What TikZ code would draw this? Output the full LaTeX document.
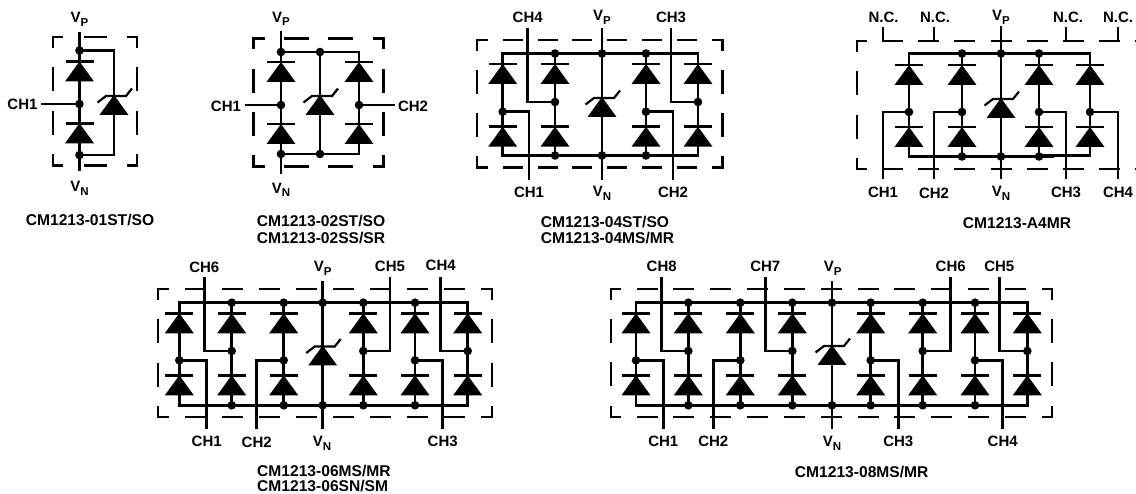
\documentclass[tikz,border=0pt]{standalone}
\usepackage{fontspec}
\setmainfont{Liberation Sans}[BoldFont={Liberation Sans Bold}]
\newcommand\Lw{2.8}
\tikzset{
 wire/.style={line width=\Lw pt,line cap=rect,line join=miter},
 dot/.style={circle,fill=black,draw=none,inner sep=0pt,minimum size=8.6pt},
 lbl/.style={inner sep=0pt,font=\bfseries\fontsize{15}{15}\selectfont},
 captext/.style={inner sep=0pt,align=left,font=\bfseries\fontsize{15.6}{16.5}\selectfont},
 diode/.pic={\fill (-14.5,20) -- (0,0) -- (14.5,20) -- cycle;
   \draw[line width=\Lw pt] (-14,0) -- (14,0);},
 tvs/.pic={\fill (-14.5,20) -- (0,0) -- (14.5,20) -- cycle;
   \draw[line width=2.2pt] (-16.5,7.5) -- (-8,1) -- (12,1) -- (18,-6.5);}
}
% junction or bare point
\newcommand\Pt[4]{\ifnum#4=1 \node[dot] (#1) at (#2,#3) {};\else\coordinate (#1) at (#2,#3);\fi}
% name x top mid bot bar1 bar2 dots
\newcommand\Column[8]{%
 \Pt{#1t}{#2}{#3}{#8}\Pt{#1b}{#2}{#5}{#8}\node[dot] (#1m) at (#2,#4) {};
 \draw[wire] (#1t) -- (#1m) -- (#1b);
 \pic at (#2,#6) {diode};\pic at (#2,#7) {diode};}
% name x top apex bot dots
\newcommand\Tvs[6]{%
 \Pt{#1t}{#2}{#3}{#6}\Pt{#1b}{#2}{#5}{#6}
 \draw[wire] (#1t) -- (#1b);
 \pic at (#2,#4) {tvs};}
% name x y text (label)
\newcommand\Lab[4]{\node[lbl] (#1) at (#2,#3) {#4};}
\newcommand\Vs[1]{V\raisebox{-3.5pt}{\fontsize{11.5}{11.5}\selectfont #1}}
% channel pin: name column-point x y label-y text
\newcommand\Chan[6]{\coordinate (#1) at (#3,#4);\draw[wire] (#2) -| (#1);\Lab{#1l}{#3}{#5}{#6}}
% dashed side: x1 y1 x2 y2 length n dash arm
\newcommand\Dsh[8]{%
 \pgfmathsetmacro\dg{(#5-2*#8-#6*#7)/(#6+1)}%
 \pgfmathsetmacro\don{#7-2.2}\pgfmathsetmacro\doff{\dg+2.2}\pgfmathsetmacro\dph{\don-(#8-1.1)}%
 \draw[line width=2.2pt,line cap=rect,dash pattern=on \don pt off \doff pt,dash phase=\dph pt] (#1,#2) -- (#3,#4);}
% x1 y1 x2 y2 nh dh arm-h
\newcommand\DBox[7]{%
 \pgfmathsetmacro\bw{#3-#1}\pgfmathsetmacro\bh{#4-#2}%
 \edef\bwx{\bw}\edef\bhx{\bh}%
 \Dsh{#1}{#2}{#3}{#2}{\bwx}{#5}{#6}{#7}
 \Dsh{#1}{#4}{#3}{#4}{\bwx}{#5}{#6}{#7}
 \Dsh{#1}{#2}{#1}{#4}{\bhx}{2}{24}{11}
 \Dsh{#3}{#2}{#3}{#4}{\bhx}{2}{24}{11}}
\begin{document}
\begin{tikzpicture}[x=1pt,y=-1pt]
\useasboundingbox (0,0) rectangle (1136,494);
\clip (0,0) rectangle (1136,494);
\fill[white] (0,0) rectangle (1136,494);
% ---------- 01
\DBox{53}{37}{137}{165.5}{1}{23}{10}
\Column{a}{79.5}{50.5}{104}{155}{61.5}{123.3}{1}
\Tvs{av}{114}{50.5}{95}{155}{0}
\draw[wire] (at) -- (avt) (avb) -- (ab);
\coordinate (aP) at (79.5,33);\coordinate (aN) at (79.5,170);
\draw[wire] (aP) -- (at) (ab) -- (aN);
\Lab{aVP}{79.5}{19.5}{\Vs{P}}\Lab{aVN}{79.5}{188.5}{\Vs{N}}
\coordinate (aC) at (42,104);\draw[wire] (aC) -- (am);
\Lab{aCl}{22.5}{104.5}{CH1}
\node[captext] (aCap) at (90,220) {CM1213-01ST/SO};
% ---------- 02
\DBox{253.5}{38.5}{383.5}{166.5}{2}{25}{11}
\Column{b}{281}{52}{105}{154}{62}{124}{1}
\Column{c}{359}{52}{105}{154}{62}{124}{0}
\Tvs{bv}{320}{52}{95}{154}{1}
\draw[wire] (bt) -- (bvt) -- (ct) (bb) -- (bvb) -- (cb);
\coordinate (bP) at (281,32);\coordinate (bN) at (281,173);
\draw[wire] (bP) -- (bt) (bb) -- (bN);
\Lab{bVP}{281}{19}{\Vs{P}}\Lab{bVN}{281}{190}{\Vs{N}}
\coordinate (bC) at (246,105);\coordinate (cC) at (394,105);
\draw[wire] (bC) -- (bm) (cm) -- (cC);
\Lab{bCl}{226}{106}{CH1}\Lab{cCl}{413}{106}{CH2}
\node[captext] (bCap) at (321,229.5) {CM1213-02ST/SO\\CM1213-02SS/SR};
% ---------- 04
\DBox{477}{40}{722.5}{167.5}{6}{20}{11}
\Column{d}{502.7}{53.5}{111.7}{155.5}{64}{126.7}{0}
\Column{e}{555}{53.5}{102}{155.5}{64}{126.7}{1}
\Column{f}{646}{53.5}{111.7}{155.5}{64}{126.7}{1}
\Column{g}{698}{53.5}{102}{155.5}{64}{126.7}{0}
\Tvs{dv}{602}{53.5}{97}{155.5}{1}
\draw[wire] (dt) -- (et) -- (dvt) -- (ft) -- (gt) (db) -- (eb) -- (dvb) -- (fb) -- (gb);
\coordinate (dP) at (602,29);\coordinate (dN) at (602,179);
\draw[wire] (dP) -- (dvt) (dvb) -- (dN);
\Lab{dVP}{602}{17.5}{\Vs{P}}\Lab{dVN}{602}{193.5}{\Vs{N}}
\Chan{dC1}{dm}{529}{179}{192}{CH1}
\Chan{dC2}{fm}{673}{179}{192}{CH2}
\Chan{dC4}{em}{527.7}{29}{17}{CH4}
\Chan{dC3}{gm}{671}{29}{17}{CH3}
\node[captext] (dCap) at (607.5,230) {CM1213-04ST/SO\\CM1213-04MS/MR};
% ---------- A4
\DBox{857}{41}{1145}{169}{7}{21}{10}
\Column{h}{909}{53.5}{112}{156.5}{65}{127}{0}
\Column{i}{962}{53.5}{112}{156.5}{65}{127}{1}
\Column{j}{1039}{53.5}{112}{156.5}{65}{127}{1}
\Column{k}{1090}{53.5}{112}{155.5}{65}{127}{0}
\Tvs{hv}{1001}{53.5}{98}{156.5}{1}
\coordinate (hr) at (1053,156.5);\coordinate (kr) at (1042,155.5);
\draw[wire] (ht) -- (it) -- (hvt) -- (jt) -- (kt) (hb) -- (ib) -- (hvb) -- (jb) -- (hr) (kr) -- (kb);
\coordinate (hP) at (1001,27);\coordinate (hN) at (1001,178);
\draw[wire] (hP) -- (hvt) (hvb) -- (hN);
\Lab{hVP}{1001}{17.5}{\Vs{P}}\Lab{hVN}{1001}{193.5}{\Vs{N}}
\Chan{hC1}{hm}{883}{178}{192}{CH1}
\Chan{hC2}{im}{934}{178}{193}{CH2}
\Chan{hC3}{jm}{1066}{178}{192}{CH3}
\Chan{hC4}{km}{1118}{178}{192}{CH4}
\foreach \nn/\xa/\xl in {p/883/883.5,q/934/935,r/1066/1068,s/1118/1118}{
 \coordinate (\nn1) at (\xa,28);\coordinate (\nn2) at (\xa,41);
 \draw[wire] (\nn1) -- (\nn2);
 \node[lbl] (\nn l) at (\xl,17) {N.C.};}
\node[captext] (hCap) at (1017,223) {CM1213-A4MR};
% ---------- 06
\DBox{157.7}{289.3}{491.7}{416.7}{8}{21}{11}
\Column{m}{179.3}{302.7}{360.3}{405.3}{313.3}{375.3}{0}
\Column{n}{231.7}{302.7}{351}{405.3}{313.3}{375.3}{1}
\Column{o}{283.7}{302.7}{360.3}{405.3}{313.3}{375.3}{1}
\Column{u}{363.3}{302.7}{351}{405.3}{313.3}{375.3}{1}
\Column{w}{415}{302.7}{360.3}{405.3}{313.3}{375.3}{1}
\Column{y}{467.7}{302.7}{351}{405.3}{313.3}{375.3}{0}
\Tvs{mv}{322.7}{302.7}{345.5}{405.3}{1}
\draw[wire] (mt) -- (nt) -- (ot) -- (mvt) -- (ut) -- (wt) -- (yt) (mb) -- (nb) -- (ob) -- (mvb) -- (ub) -- (wb) -- (yb);
\coordinate (mP) at (322.7,282);\coordinate (mN) at (322.7,427.7);
\draw[wire] (mP) -- (mvt) (mvb) -- (mN);
\Lab{mVP}{322.7}{268.5}{\Vs{P}}\Lab{mVN}{322}{443.5}{\Vs{N}}
\Chan{mC6}{nm}{204.3}{278}{267}{CH6}
\Chan{mC5}{um}{390}{278}{266}{CH5}
\Chan{mC4}{ym}{440.7}{278}{265}{CH4}
\Chan{mC1}{mm}{206.7}{428}{441}{CH1}
\Chan{mC2}{om}{256.7}{428}{442}{CH2}
\Chan{mC3}{wm}{442.7}{428}{441}{CH3}
\node[captext,anchor=west] (mCap) at (257,471.5) {CM1213-06MS/MR};
\node[captext,anchor=west] (mCapB) at (257,486.5) {CM1213-06SN/SM};
% ---------- 08
\DBox{610.7}{289}{1051.7}{416.7}{11}{21}{10}
\Column{A}{636}{302.7}{360.3}{405.3}{313.3}{375.3}{0}
\Column{B}{688.3}{302.7}{351}{405.3}{313.3}{375.3}{1}
\Column{C}{740.3}{302.7}{360.3}{405.3}{313.3}{375.3}{1}
\Column{D}{792.3}{302.7}{351}{405.3}{313.3}{375.3}{1}
\Column{E}{870.7}{302.7}{360.3}{405.3}{313.3}{375.3}{1}
\Column{F}{922.7}{302.7}{351}{405.3}{313.3}{375.3}{1}
\Column{G}{975}{302.7}{360.3}{405.3}{313.3}{375.3}{1}
\Column{H}{1027.3}{302.7}{351}{405.3}{313.3}{375.3}{0}
\Tvs{Av}{832}{302.7}{345}{405.3}{1}
\draw[wire] (At) -- (Bt) -- (Ct) -- (Dt) -- (Avt) -- (Et) -- (Ft) -- (Gt) -- (Ht)
 (Ab) -- (Bb) -- (Cb) -- (Db) -- (Avb) -- (Eb) -- (Fb) -- (Gb) -- (Hb);
\coordinate (AP) at (832,282);\coordinate (AN) at (832,428);
\draw[wire] (AP) -- (Avt) (Avb) -- (AN);
\Lab{AVP}{832.7}{268.5}{\Vs{P}}\Lab{AVN}{832}{443.5}{\Vs{N}}
\Chan{AC8}{Bm}{661.7}{278}{266}{CH8}
\Chan{AC7}{Dm}{765.3}{278}{266}{CH7}
\Chan{AC6}{Fm}{950.7}{278}{266}{CH6}
\Chan{AC5}{Hm}{999.3}{278}{266}{CH5}
\Chan{AC1}{Am}{663.3}{428}{441}{CH1}
\Chan{AC2}{Cm}{713.3}{428}{441}{CH2}
\Chan{AC3}{Em}{898.3}{428}{441}{CH3}
\Chan{AC4}{Gm}{1002.7}{428}{441}{CH4}
\node[captext] (ACap) at (861.7,472) {CM1213-08MS/MR};
\end{tikzpicture}
\end{document}
